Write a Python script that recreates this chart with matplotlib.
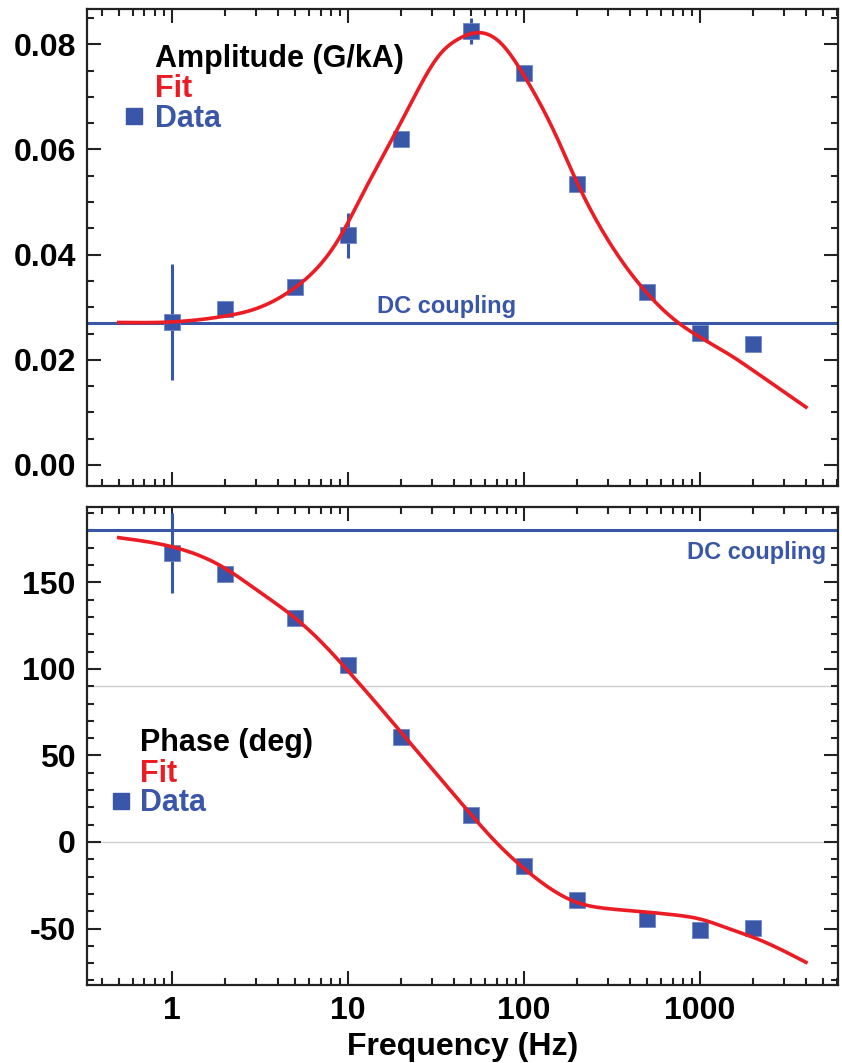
import numpy as np
import matplotlib
matplotlib.use('Agg')
import matplotlib.pyplot as plt
from matplotlib.ticker import LogLocator, MultipleLocator, FixedLocator, FixedFormatter, NullFormatter

plt.rcParams['font.family'] = ['Liberation Sans', 'DejaVu Sans']
plt.rcParams['font.weight'] = 'bold'
plt.rcParams['axes.labelweight'] = 'bold'
plt.rcParams['axes.unicode_minus'] = False

# measured data
freq = [1, 2, 5, 10, 20, 50, 100, 200, 500, 1000, 2000]
amp = [0.0272, 0.0296, 0.0338, 0.0437, 0.0619, 0.0825, 0.0745, 0.0534, 0.0329, 0.0251, 0.0230]
amp_err = [0.011, 0, 0, 0.0043, 0, 0.0025, 0, 0, 0, 0, 0]
phase = [166.9, 155.1, 129.5, 102.3, 60.6, 15.6, -13.7, -33.4, -44.2, -51.1, -49.4]
phase_err = [23, 0, 0, 0, 0, 0, 0, 0, 0, 0, 0]

# fit curves
fit_f = [0.5, 1, 2, 3, 5, 9, 12, 15, 20, 25, 33, 43, 54, 73, 100, 150, 200, 300, 500, 700, 1000, 1500, 2000, 4000]
fit_amp = [0.0271, 0.0272, 0.0283, 0.0297, 0.0337, 0.0433, 0.0512, 0.0573, 0.0651, 0.0713, 0.0779, 0.0811,
           0.0822, 0.0804, 0.0741, 0.0631, 0.0538, 0.0428, 0.0327, 0.0279, 0.0243, 0.0208, 0.0180, 0.0110]
fit_ph_f = [0.5, 1, 2, 3, 5, 7, 10, 15, 20, 30, 50, 70, 100, 150, 200, 300, 500, 700, 1000, 1500, 2000, 4000]
fit_phase = [175.8, 170.6, 158.2, 146, 129.5, 116, 99, 78.5, 63.5, 42.5, 16, -0.5, -15.2, -28.6, -34.9, -38.5,
             -40.5, -42, -44.5, -50.5, -55, -69.5]

dc_amp = 0.0270
dc_phase = 180

blue = '#3a56a8'
red = '#ec1c24'


# natural cubic spline through the read points, in log-frequency
def spline(xs, ys, n=500):
    x = np.log10(xs)
    y = np.asarray(ys, float)
    k = len(x)
    h = np.diff(x)
    A = np.zeros((k, k))
    r = np.zeros(k)
    A[0, 0] = A[-1, -1] = 1
    for i in range(1, k - 1):
        A[i, i - 1] = h[i - 1]
        A[i, i] = 2 * (h[i - 1] + h[i])
        A[i, i + 1] = h[i]
        r[i] = 6 * ((y[i + 1] - y[i]) / h[i] - (y[i] - y[i - 1]) / h[i - 1])
    m = np.linalg.solve(A, r)
    xx = np.linspace(x[0], x[-1], n)
    j = np.clip(np.searchsorted(x, xx) - 1, 0, k - 2)
    t = xx - x[j]
    hj = h[j]
    a = (m[j + 1] - m[j]) / (6 * hj)
    b = m[j] / 2
    c = (y[j + 1] - y[j]) / hj - hj * (2 * m[j] + m[j + 1]) / 6
    yy = y[j] + c * t + b * t ** 2 + a * t ** 3
    return 10 ** xx, yy


fig = plt.figure(figsize=(8.42, 10.63), dpi=100)
ax1 = fig.add_axes([0.1033, 0.5428, 0.8919, 0.4487])
ax2 = fig.add_axes([0.1033, 0.0734, 0.8919, 0.4496])

tick_fs = 23

for ax in (ax1, ax2):
    ax.set_xscale('log')
    ax.set_xlim(0.33, 6080)
    ax.tick_params(which='both', direction='in', top=True, right=True, width=1.5, colors='#222222',
                   labelsize=tick_fs, labelcolor='black', pad=8)
    ax.tick_params(which='major', length=10)
    ax.tick_params(which='minor', length=5)
    ax.xaxis.set_major_locator(FixedLocator([1, 10, 100, 1000]))
    ax.xaxis.set_major_formatter(FixedFormatter(['1', '10', '100', '1000']))
    ax.xaxis.set_minor_locator(LogLocator(base=10, subs=np.arange(2, 10)))
    ax.xaxis.set_minor_formatter(NullFormatter())
    for s in ax.spines.values():
        s.set_linewidth(1.6)
        s.set_color('#222222')

# amplitude panel
ax1.set_ylim(-0.004, 0.0867)
ax1.yaxis.set_major_locator(MultipleLocator(0.02))
ax1.yaxis.set_minor_locator(MultipleLocator(0.005))
ax1.yaxis.set_major_formatter(plt.FuncFormatter(lambda v, p: '%.2f' % v))
ax1.tick_params(axis='x', labelbottom=False)
ax1.axhline(dc_amp, color=blue, lw=2.2, zorder=2)
ax1.text(0.479, 0.363, 'DC coupling', transform=ax1.transAxes, color=blue, fontsize=17,
         ha='center', va='baseline')
fx, fy = spline(fit_f, fit_amp)
ax1.plot(fx, fy, color=red, lw=2.6, zorder=4)
ax1.errorbar(freq, amp, yerr=amp_err, fmt='none', ecolor=blue, elinewidth=2.2, capsize=0, zorder=3)
ax1.plot(freq, amp, 's', color=blue, markersize=11.5, markeredgecolor='#7088c8', markeredgewidth=0.6, zorder=3)
ax1.text(0.0905, 0.879, 'Amplitude (G/kA)', transform=ax1.transAxes, fontsize=22, color='black', va='baseline')
ax1.text(0.0905, 0.816, 'Fit', transform=ax1.transAxes, fontsize=22, color=red, va='baseline')
ax1.text(0.0905, 0.753, 'Data', transform=ax1.transAxes, fontsize=22, color=blue, va='baseline')
ax1.plot([0.0626], [0.776], 's', transform=ax1.transAxes, color=blue, markersize=11.5, clip_on=False)

# phase panel
ax2.set_ylim(-82.6, 193.5)
ax2.yaxis.set_major_locator(MultipleLocator(50))
ax2.yaxis.set_minor_locator(MultipleLocator(10))
ax2.axhline(90, color='#cfcfcf', lw=1, zorder=1)
ax2.axhline(0, color='#cfcfcf', lw=1, zorder=1)
ax2.axhline(dc_phase, color=blue, lw=2.2, zorder=2)
ax2.text(0.984, 0.892, 'DC coupling', transform=ax2.transAxes, color=blue, fontsize=17,
         ha='right', va='baseline')
px, py = spline(fit_ph_f, fit_phase)
ax2.plot(px, py, color=red, lw=2.6, zorder=4)
ax2.errorbar(freq, phase, yerr=phase_err, fmt='none', ecolor=blue, elinewidth=2.2, capsize=0, zorder=3)
ax2.plot(freq, phase, 's', color=blue, markersize=11.5, markeredgecolor='#7088c8', markeredgewidth=0.6, zorder=3)
ax2.text(0.0706, 0.489, 'Phase (deg)', transform=ax2.transAxes, fontsize=22, color='black', va='baseline')
ax2.text(0.0706, 0.425, 'Fit', transform=ax2.transAxes, fontsize=22, color=red, va='baseline')
ax2.text(0.0706, 0.363, 'Data', transform=ax2.transAxes, fontsize=22, color=blue, va='baseline')
ax2.plot([0.0449], [0.385], 's', transform=ax2.transAxes, color=blue, markersize=11.5, clip_on=False)
ax2.set_xlabel('Frequency (Hz)', fontsize=23, labelpad=4)

fig.savefig('out.png', dpi=100)
